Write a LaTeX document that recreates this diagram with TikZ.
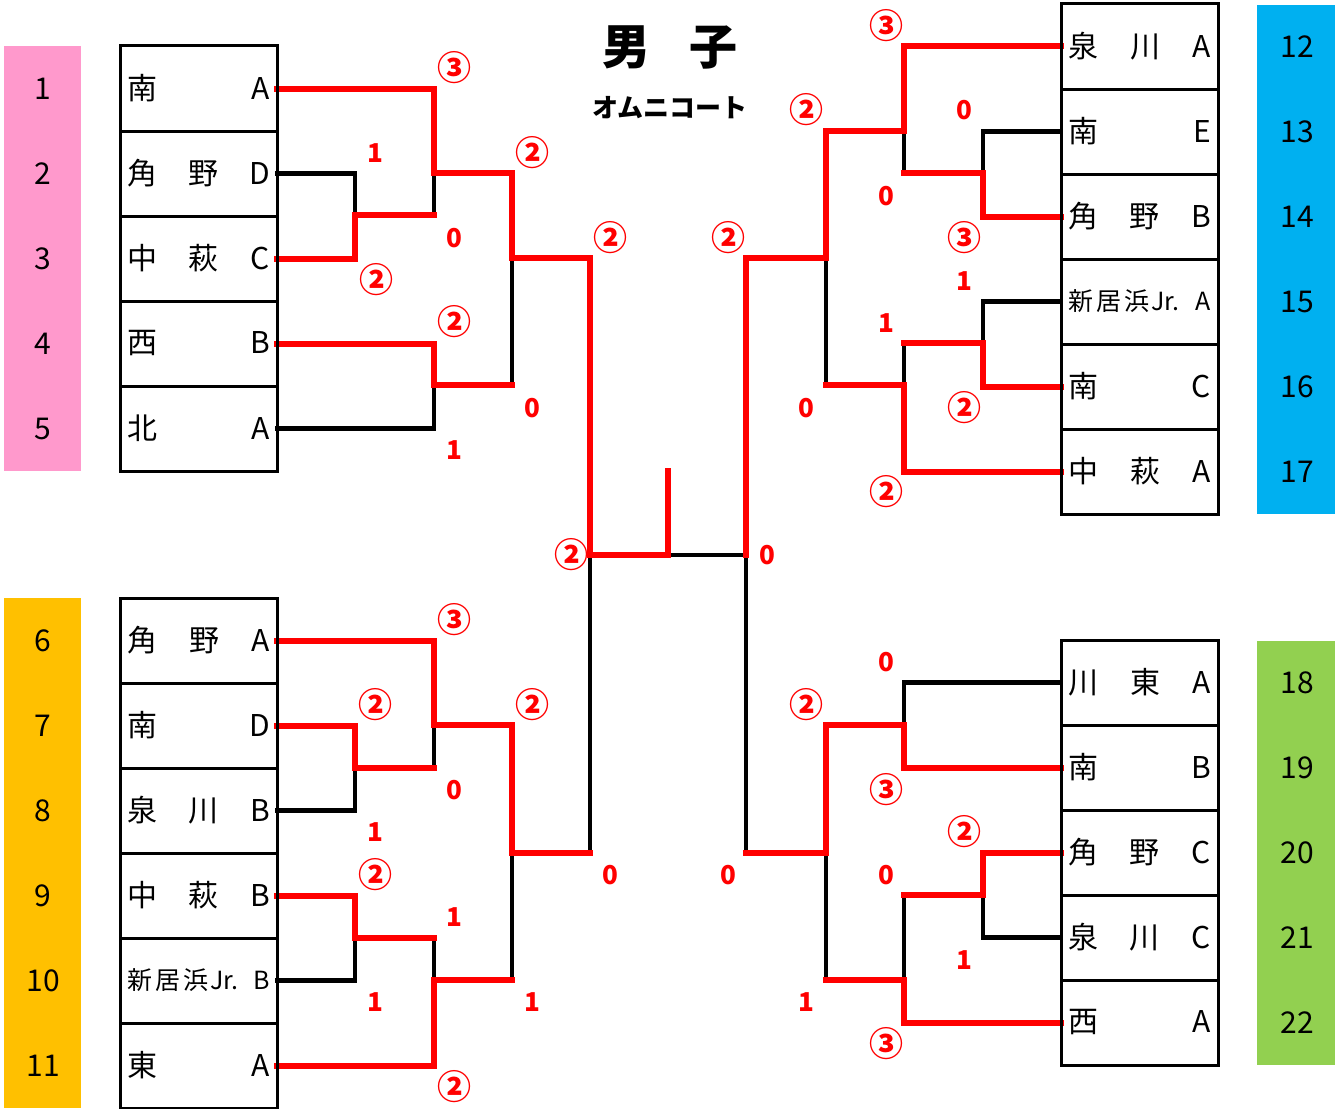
\documentclass[tikz,border=0pt]{standalone}
\usepackage{fontspec}
\setmainfont{Noto Sans CJK JP}
\usetikzlibrary{positioning}

\definecolor{pinkbar}{HTML}{FF99CC}
\definecolor{yellowbar}{HTML}{FFC000}
\definecolor{bluebar}{HTML}{00B0F0}
\definecolor{greenbar}{HTML}{92D050}

\newcommand{\tm}[2]{\makebox[143pt][s]{#1\hfill #2}}
\newcommand{\jr}[1]{\tm{\fontsize{25}{25}\selectfont 新\kern3pt 居\kern3pt 浜\kern2pt Jr.}{\fontsize{25}{25}\selectfont #1}}
\newcommand{\cir}[1]{{\fontsize{34}{34}\selectfont #1}}

\tikzset{
  team/.style={draw, line width=3pt, minimum width=157pt, minimum height=85pt,
    inner sep=0pt, outer sep=0pt, font=\fontsize{30}{30}\selectfont},
  seed/.style={inner sep=0pt, font=\fontsize{30}{30}\selectfont},
  win/.style={draw=red, line width=6pt, line cap=rect},
  lose/.style={draw=black, line width=4.5pt, line cap=rect},
  score/.style={text=red, inner sep=0pt, font=\bfseries\fontsize{26}{26}\selectfont},
  title/.style={inner sep=0pt, font=\bfseries\fontsize{48}{48}\selectfont},
}

\begin{document}
\begin{tikzpicture}[x=1pt,y=-1pt]
   \useasboundingbox (0,0) rectangle (1335,1108);
   % colour bars
   \fill[pinkbar] (4,46) rectangle (81,471);
   \fill[yellowbar] (4,598) rectangle (81,1108);
   \fill[bluebar] (1257,5) rectangle (1335,514);
   \fill[greenbar] (1257,641) rectangle (1335,1065);

   \node[title] (ttl) at (670,47) {男\hspace{0.8em}子};
   \node[title, font=\bfseries\fontsize{26}{26}\selectfont] (crt) at (670,108) {オムニコート};

   % joints
   \coordinate (p1) at (355,215);
   \coordinate (p2) at (434,173);
   \coordinate (p3) at (434,385);
   \coordinate (p4) at (512,258);
   \coordinate (q1) at (355,768);
   \coordinate (q2) at (434,725);
   \coordinate (q3) at (355,938);
   \coordinate (q4) at (434,980);
   \coordinate (q5) at (512,853);
   \coordinate (r1) at (983,173);
   \coordinate (r2) at (904,131);
   \coordinate (r3) at (983,343);
   \coordinate (r4) at (904,385);
   \coordinate (r5) at (826,258);
   \coordinate (u1) at (904,725);
   \coordinate (u2) at (983,895);
   \coordinate (u3) at (904,980);
   \coordinate (u4) at (826,853);
   \coordinate (s1) at (590,555);
   \coordinate (s2) at (746,555);
   \coordinate (f) at (668,555);
   \coordinate (champ) at (668,471);
   \coordinate (lx) at (43,0);
   \coordinate (rx) at (1297,0);

   % teams
   \node[team] (t1) at (198.5,88.5) {\tm{南}{A}};
   \node[team] (t2) [below=0pt of t1] {\tm{角\hfill 野}{D}};
   \node[team] (t3) [below=0pt of t2] {\tm{中\hfill 萩}{C}};
   \node[team] (t4) [below=0pt of t3] {\tm{西}{B}};
   \node[team] (t5) [below=0pt of t4] {\tm{北}{A}};
   \node[team] (t6) at (198.5,640.5) {\tm{角\hfill 野}{A}};
   \node[team] (t7) [below=0pt of t6] {\tm{南}{D}};
   \node[team] (t8) [below=0pt of t7] {\tm{泉\hfill 川}{B}};
   \node[team] (t9) [below=0pt of t8] {\tm{中\hfill 萩}{B}};
   \node[team] (t10) [below=0pt of t9] {\jr{B}};
   \node[team] (t11) [below=0pt of t10] {\tm{東}{A}};
   \node[team] (t12) at (1139.5,46.5) {\tm{泉\hfill 川}{A}};
   \node[team] (t13) [below=0pt of t12] {\tm{南}{E}};
   \node[team] (t14) [below=0pt of t13] {\tm{角\hfill 野}{B}};
   \node[team] (t15) [below=0pt of t14] {\jr{A}};
   \node[team] (t16) [below=0pt of t15] {\tm{南}{C}};
   \node[team] (t17) [below=0pt of t16] {\tm{中\hfill 萩}{A}};
   \node[team] (t18) at (1139.5,682.5) {\tm{川\hfill 東}{A}};
   \node[team] (t19) [below=0pt of t18] {\tm{南}{B}};
   \node[team] (t20) [below=0pt of t19] {\tm{角\hfill 野}{C}};
   \node[team] (t21) [below=0pt of t20] {\tm{泉\hfill 川}{C}};
   \node[team] (t22) [below=0pt of t21] {\tm{西}{A}};

   \foreach \i in {1,...,11}
      \node[seed] (n\i) at (t\i -| lx) {\i};
   \foreach \i in {12,...,22}
      \node[seed] (n\i) at (t\i -| rx) {\i};

   % losing lines
   \path[lose]
    (t2.east) -| (p1)  (p1 -| p2) -- (p2)  (t5.east) -| (p3)  (p3 -| p4) -- (p4)
    (t8.east) -| (q1)  (q1 -| q2) -- (q2)  (t10.east) -| (q3)  (q3 -| q4) -- (q4)
    (q4 -| q5) -- (q5)  (q5 -| s1) -- (s1)
    (t13.west) -| (r1)  (r1 -| r2) -- (r2)  (t15.west) -| (r3)  (r3 -| r4) -- (r4)
    (r4 -| r5) -- (r5)
    (t18.west) -| (u1)  (t21.west) -| (u2)  (u2 -| u3) -- (u3)  (u3 -| u4) -- (u4)
    (u4 -| s2) -- (s2)  (s2) -- (f);

   % winning lines
   \path[win]
    (t3.east) -| (p1) -- (p1 -| p2)  (t1.east) -| (p2) -| (p4)
    (t4.east) -| (p3) -- (p3 -| p4)  (p4) -| (s1) -- (f) -- (champ)
    (t7.east) -| (q1) -- (q1 -| q2)  (t6.east) -| (q2) -| (q5)
    (t9.east) -| (q3) -- (q3 -| q4)  (t11.east) -| (q4) -- (q4 -| q5)
    (q5) -- (q5 -| s1)
    (t14.west) -| (r1) -- (r1 -| r2)  (t12.west) -| (r2) -| (r5) -| (s2)
    (t16.west) -| (r3) -- (r3 -| r4)  (t17.west) -| (r4) -- (r4 -| r5)
    (t19.west) -| (u1) -| (u4) -- (u4 -| s2)
    (t20.west) -| (u2) -- (u2 -| u3)  (t22.west) -| (u3) -- (u3 -| u4);

   % boxes on top
   \foreach \i in {1,...,22}
      \draw[line width=3pt] (t\i.north west) rectangle (t\i.south east);

   % scores
   \foreach \x/\y/\t [count=\i] in {
      454/68/\cir{③}, 375/153/1, 376/280/\cir{②}, 454/238/0, 532/153/\cir{②},
      454/322/\cir{②}, 454/450/1, 532/408/0, 610/238/\cir{②},
      454/620/\cir{③}, 375/705/\cir{②}, 454/790/0, 375/832/1, 532/705/\cir{②},
      375/875/\cir{②}, 454/917/1, 375/1002/1, 532/1002/1, 454/1087/\cir{②},
      610/875/0,
      571/555/\cir{②}, 767/555/0,
      886/26/\cir{③}, 964/110/0, 964/238/\cir{③}, 886/196/0, 806/110/\cir{②},
      964/281/1, 964/408/\cir{②}, 886/323/1, 886/492/\cir{②}, 806/408/0,
      728/238/\cir{②},
      886/662/0, 886/790/\cir{③}, 806/705/\cir{②}, 964/832/\cir{②}, 886/875/0,
      964/960/1, 806/1002/1, 886/1044/\cir{③}, 728/875/0}
      \node[score] (sc\i) at (\x,\y) {\t};
\end{tikzpicture}
\end{document}
